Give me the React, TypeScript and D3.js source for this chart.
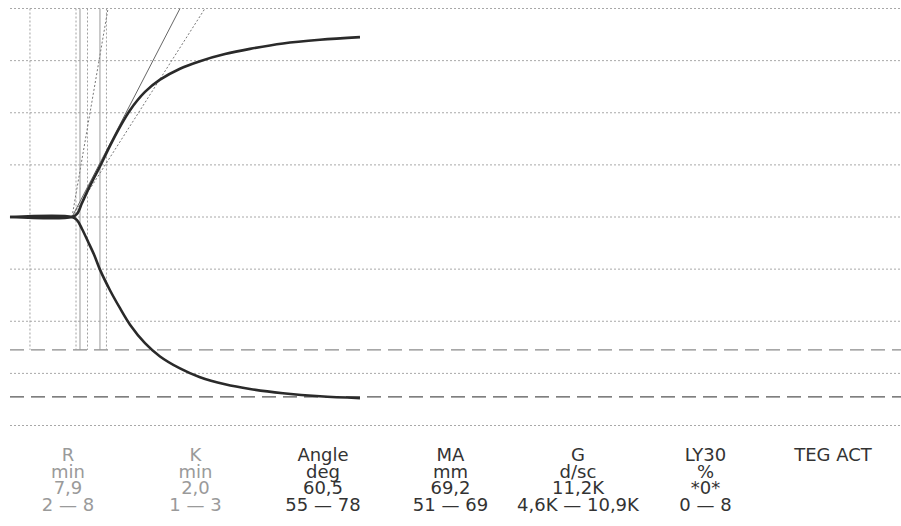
import React from "react";
import * as d3 from "d3";

// time (min) of each sampled point of the trace
const traceTimes = [0, 7.92, 8.56, 9.2, 9.96, 10.73, 11.49, 12.77, 14.05, 15.33, 17.24, 19.16, 21.71, 24.27, 27.46, 30.65, 34.87, 39.59, 44.7];
// amplitude (mm) of the upper branch
const upperAmp = [0, 0, 1.2, 5.4, 10.4, 15.0, 19.4, 27.3, 34.6, 41.0, 48.0, 52.7, 56.9, 59.8, 62.5, 64.5, 66.6, 68.0, 69.0];
// amplitude (mm) of the lower branch
const lowerAmp = [0, 0, 1.2, 4.6, 9.4, 14.4, 20.2, 28.1, 35.0, 41.3, 48.4, 53.5, 58.1, 61.5, 64.2, 66.0, 67.6, 68.8, 69.5];

// horizontal grid (mm)
const gridAmps = [-80, -60, -40, -20, 0, 20, 40, 60, 80];
// MA normal range limits (mm)
const maRange = [51, 69];
// vertical markers (min)
const dottedMarkers = [2.55, 8.43, 9.9, 12.32];
const solidMarkers = [8.94, 11.49];
// angle lines: start time, end time at top amplitude
const angleStart = 7.92;
const angleSolidEnd = [21.71];
const angleDottedEnd = [24.9, 12.52];

// parameter table
const paramNames = ["R", "K", "Angle", "MA", "G", "LY30", "TEG ACT"];
const paramUnits = ["min", "min", "deg", "mm", "d/sc", "%", ""];
const paramValues = ["7,9", "2,0", "60,5", "69,2", "11,2K", "*0*", ""];
const paramRanges = ["2 — 8", "1 — 3", "55 — 78", "51 — 69", "4,6K — 10,9K", "0 — 8", ""];
const paramMuted = [true, true, false, false, false, false, false];

const W = 901;
const H = 526;

export default function App() {
  const x = d3.scaleLinear().domain([0, 113.8]).range([10, 901]);
  const y = d3.scaleLinear().domain([-80, 80]).range([425.5, 8.5]);

  const upper = d3
    .line<number>()
    .x((_, i) => x(traceTimes[i]))
    .y((d) => y(d))
    .curve(d3.curveCatmullRom.alpha(0.5));
  const lower = d3
    .line<number>()
    .x((_, i) => x(traceTimes[i]))
    .y((d) => y(-d))
    .curve(d3.curveCatmullRom.alpha(0.5));

  const colX = d3.scalePoint<string>().domain(paramNames).range([68, 833]);
  const firstBaseline = 461;
  const rowStep = 16.5;

  const topY = y(80);
  const markerBottom = y(-maRange[0]);

  return (
    <svg
      width={W}
      height={H}
      style={{ position: "absolute", left: 0, top: 0, background: "#fff" }}
      fontFamily="'DejaVu Sans', Verdana, sans-serif"
    >
      <rect width={W} height={H} fill="#fff" />
      {gridAmps.map((a) => (
        <line
          key={"g" + a}
          x1={x(0)}
          x2={W}
          y1={y(a)}
          y2={y(a)}
          stroke="#a8a8a8"
          strokeWidth={1}
          strokeDasharray="2,2"
        />
      ))}
      {maRange.map((a, i) => (
        <line
          key={"ma" + a}
          x1={x(0)}
          x2={W}
          y1={y(-a)}
          y2={y(-a)}
          stroke={i === 0 ? "#8a8a8a" : "#555"}
          strokeWidth={1.2}
          strokeDasharray="14,7"
        />
      ))}
      {dottedMarkers.map((t) => (
        <line
          key={"dm" + t}
          x1={x(t)}
          x2={x(t)}
          y1={topY}
          y2={markerBottom}
          stroke="#a0a0a0"
          strokeWidth={1}
          strokeDasharray="2,2"
        />
      ))}
      {solidMarkers.map((t) => (
        <line
          key={"sm" + t}
          x1={x(t)}
          x2={x(t)}
          y1={topY}
          y2={markerBottom}
          stroke="#9a9a9a"
          strokeWidth={1}
        />
      ))}
      {angleSolidEnd.map((t) => (
        <line
          key={"as" + t}
          x1={x(angleStart)}
          y1={y(0)}
          x2={x(t)}
          y2={topY}
          stroke="#666"
          strokeWidth={1}
        />
      ))}
      {angleDottedEnd.map((t) => (
        <line
          key={"ad" + t}
          x1={x(angleStart)}
          y1={y(0)}
          x2={x(t)}
          y2={topY}
          stroke="#777"
          strokeWidth={1}
          strokeDasharray="2,2"
        />
      ))}
      <path d={upper(upperAmp) || ""} fill="none" stroke="#2a2a2a" strokeWidth={2.6} />
      <path d={lower(lowerAmp) || ""} fill="none" stroke="#2a2a2a" strokeWidth={2.6} />
      {paramNames.map((n, i) => {
        const fill = paramMuted[i] ? "#9a9a9a" : "#333";
        const lines = [n, paramUnits[i], paramValues[i], paramRanges[i]].filter((s) => s);
        const cx = colX(n) as number;
        return (
          <text
            key={"p" + n}
            x={cx}
            y={firstBaseline}
            textAnchor="middle"
            fontSize={18}
            fill={fill}
          >
            {lines.map((s, j) => (
              <tspan key={j} x={cx} dy={j === 0 ? 0 : rowStep}>
                {s}
              </tspan>
            ))}
          </text>
        );
      })}
    </svg>
  );
}
